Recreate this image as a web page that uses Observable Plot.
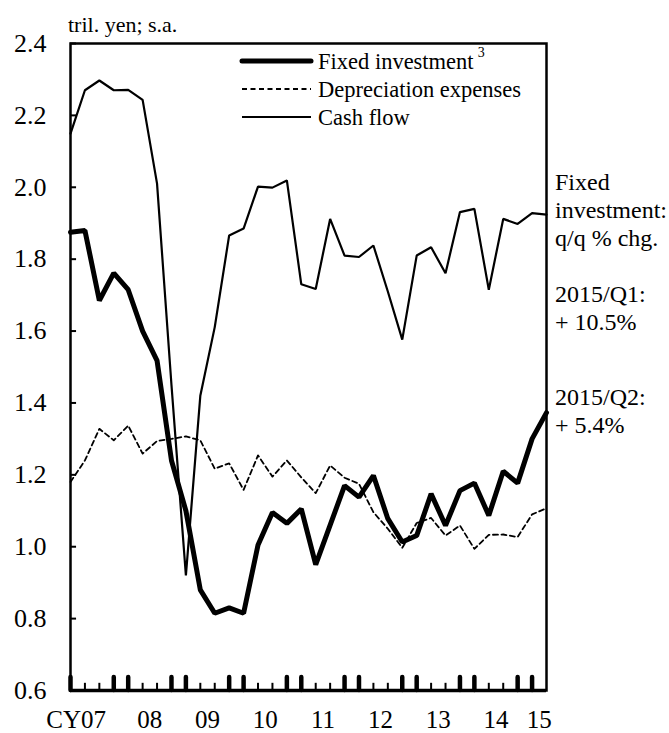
<!DOCTYPE html>
<html><head><meta charset="utf-8">
<script src="https://cdn.jsdelivr.net/npm/d3@7"></script>
<script src="https://cdn.jsdelivr.net/npm/@observablehq/plot@0.6"></script>
<style>
body{margin:0;background:#fff;}
#chart svg{font-family:"Liberation Serif","Times New Roman",serif;overflow:visible;}
</style>
</head><body><div id="chart"></div>
<script>
// ---- data ----
const years = ["07","08","09","10","11","12","13","14","15"];
const quarterNames = ["Q1","Q2","Q3","Q4"];
const fixedInvestment = [1.875,1.88,1.685,1.761,1.715,1.60,1.518,1.24,1.10,0.88,0.815,0.83,0.815,1.005,1.095,1.065,1.105,0.95,1.06,1.17,1.138,1.198,1.078,1.013,1.031,1.147,1.059,1.156,1.177,1.087,1.21,1.177,1.30,1.373];
const depreciation = [1.18,1.24,1.328,1.296,1.337,1.259,1.294,1.30,1.307,1.296,1.217,1.232,1.158,1.254,1.195,1.24,1.193,1.149,1.226,1.192,1.175,1.096,1.05,0.997,1.066,1.08,1.031,1.059,0.994,1.033,1.034,1.027,1.09,1.107];
const cashFlow = [2.149,2.27,2.297,2.27,2.271,2.243,2.01,1.45,0.92,1.42,1.611,1.866,1.885,2.002,1.999,2.019,1.73,1.717,1.912,1.81,1.806,1.838,1.71,1.576,1.81,1.833,1.761,1.931,1.94,1.715,1.912,1.898,1.928,1.924];
const yTicks = [0.6,0.8,1.0,1.2,1.4,1.6,1.8,2.0,2.2,2.4];
const seriesNames = ["Fixed investment","Depreciation expenses","Cash flow"];
const unitLabel = "tril. yen; s.a.";
const noteBlocks = [["Fixed","investment:","q/q % chg."],["2015/Q1:","+ 10.5%"],["2015/Q2:","+ 5.4%"]];

// ---- derived table ----
const quarters = years.flatMap(y => quarterNames.map(q => y + q)).slice(0, fixedInvestment.length);
const data = quarters.map((q, i) => ({i, q, year: q.slice(0,2), qn: q.slice(2),
  fixed: fixedInvestment[i], dep: depreciation[i], cash: cashFlow[i]}));
const yearData = years.map(y => ({label: y === "07" ? "CY07" : y,
  x: d3.mean(data.filter(d => d.year === y), d => d.i)}));
const tickData = data.slice(0, data.length - 1);
const isThick = d => d.qn === "Q1" || d.qn === "Q4";
const thick = tickData.filter(isThick);
const thin = tickData.filter(d => !isThick(d));

const plot = Plot.plot({
  width: 669, height: 733,
  marginLeft: 70, marginRight: 123, marginTop: 43, marginBottom: 43,
  style: {fontFamily: "Liberation Serif, Times New Roman, serif", fontSize: "27px", color: "#000", background: "#fff"},
  x: {domain: [0, data.length - 1], axis: null},
  y: {domain: [0.6, 2.4], axis: null},
  marks: [
    Plot.ruleY(yTicks, {y: d => d, x1: 0, x2: 0.42, strokeWidth: 2}),
    Plot.ruleX(thin, {x: "i", y1: 0.6, y2: 0.62, strokeWidth: 2}),
    Plot.ruleX(thick, {x: "i", y1: 0.6, y2: 0.636, strokeWidth: 4.5, strokeLinecap: "round"}),
    Plot.line(data, {x: "i", y: "cash", stroke: "#000", strokeWidth: 2.2, strokeLinejoin: "miter"}),
    Plot.line(data, {x: "i", y: "dep", stroke: "#000", strokeWidth: 1.8, strokeDasharray: "5,3.5"}),
    Plot.line(data, {x: "i", y: "fixed", stroke: "#000", strokeWidth: 5, strokeLinejoin: "miter"}),
    Plot.frame({stroke: "#000", strokeWidth: 2.5}),
    Plot.ruleY([0.6], {stroke: "#000", strokeWidth: 3.5}),
    Plot.axisY(yTicks, {anchor: "left", tickSize: 0, tickPadding: 24, fontSize: 26, tickFormat: d3.format(".1f"), label: null}),
    Plot.text(yearData.slice(1), {x: "x", y: 0.6, text: "label", dy: 29, fontSize: 25}),
    Plot.text(yearData.slice(0,1), {x: "x", y: 0.6, text: "label", dy: 29, dx: -16, fontSize: 25})
  ]
});
document.getElementById("chart").appendChild(plot);

const svg = d3.select(plot);
svg.append("text").attr("x", 68).attr("y", 32).attr("font-size", 22)
  .attr("text-anchor", "start").text(unitLabel);

const lg = svg.append("g").attr("font-size", 22.5).attr("text-anchor", "start");
const styles = [{w: 5, dash: null}, {w: 1.8, dash: "5,3.5"}, {w: 2.2, dash: null}];
seriesNames.forEach((name, k) => {
  const y = 61 + k * 28;
  lg.append("line").attr("x1", 242).attr("x2", 311).attr("y1", y).attr("y2", y)
    .attr("stroke", "#000").attr("stroke-width", styles[k].w)
    .attr("stroke-dasharray", styles[k].dash).attr("stroke-linecap", k === 0 ? "round" : "butt");
  const t = lg.append("text").attr("x", 318).attr("y", y + 7.5).text(name);
  if (k === 0) t.append("tspan").attr("font-size", 14).attr("dx", 4).attr("dy", -12).text("3");
});

const note = svg.append("g").attr("font-size", 24).attr("text-anchor", "start");
const blockTops = [190, 302, 405];
noteBlocks.forEach((block, b) => {
  block.forEach((line, k) => {
    note.append("text").attr("x", 555).attr("y", blockTops[b] + k * 28).text(line);
  });
});
</script>
</body></html>
